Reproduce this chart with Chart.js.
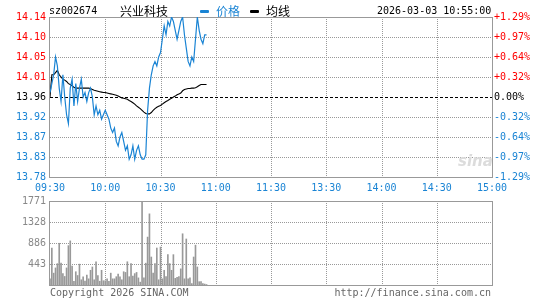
<!DOCTYPE html>
<html>
<head>
<meta charset="utf-8">
<script src="https://cdn.jsdelivr.net/npm/chart.js@4/dist/chart.umd.min.js"></script>
<style>
  body { margin: 0; background: #fff; }
  #wrap { position: relative; width: 545px; height: 300px; overflow: hidden; }
  canvas { position: absolute; left: 0; }
  .t { position: absolute; white-space: nowrap; font: 10px 'DejaVu Sans Mono', monospace; line-height: 10px; }
  .cjk { font: 12px 'Noto Sans CJK SC', sans-serif; line-height: 12px; }
  .bar { position: absolute; height: 3px; width: 9px; border-radius: 1px; }
</style>
</head>
<body>
<div id="wrap">
  <canvas id="priceChart" width="545" height="196" style="top:0"></canvas>
  <canvas id="volChart" width="545" height="114" style="top:186px"></canvas>
  <div class="t" style="left:49px;top:6px;color:#000">sz002674</div>
  <div class="t cjk" style="left:120px;top:5px;color:#000">兴业科技</div>
  <div class="bar" style="left:200px;top:10px;background:#1a84d4"></div>
  <div class="t cjk" style="left:216px;top:5px;color:#1a84d4">价格</div>
  <div class="bar" style="left:250px;top:10px;background:#000"></div>
  <div class="t cjk" style="left:266px;top:5px;color:#000">均线</div>
  <div class="t" style="left:377px;top:6px;color:#000">2026-03-03 10:55:00</div>
  <div class="t" style="left:458px;top:152px;font:italic bold 15px 'DejaVu Sans',sans-serif;color:#dcdcdc">sina</div>
  <div class="t" style="left:50px;top:288px;color:#666">Copyright 2026 SINA.COM</div>
  <div class="t" style="right:54px;top:288px;color:#666">http://finance.sina.com.cn</div>
</div>
<script>
// time axis labels, one every 30 trading minutes
const timeLabels = ['09:30', '10:00', '10:30', '11:00', '11:30', '13:30', '14:00', '14:30', '15:00'];
const priceLabels = ['13.78', '13.83', '13.87', '13.92', '13.96', '14.01', '14.05', '14.10', '14.14'];
const pctLabels = ['-1.29%', '-0.97%', '-0.64%', '-0.32%', '0.00%', '+0.32%', '+0.64%', '+0.97%', '+1.29%'];
const volLabels = ['443', '886', '1328', '1771'];
const volTicks = [443, 886, 1328, 1771];

const preClose = 13.96;
const priceStep = 0.045;

// minute prices from 09:30 to 10:55
const price = [13.97, 13.99, 14.01, 14.05, 14.03, 13.98, 13.95, 14.01, 13.96, 13.92,
  13.90, 13.98, 14.00, 13.94, 13.99, 13.95, 13.98, 14.00, 13.96, 13.97,
  13.95, 13.97, 13.98, 13.96, 13.92, 13.94, 13.92, 13.93, 13.91, 13.92,
  13.93, 13.92, 13.91, 13.89, 13.88, 13.89, 13.86, 13.85, 13.87, 13.88,
  13.86, 13.84, 13.85, 13.82, 13.83, 13.85, 13.82, 13.84, 13.85, 13.83,
  13.82, 13.82, 13.83, 13.93, 13.98, 14.01, 14.03, 14.04, 14.03, 14.05,
  14.06, 14.09, 14.12, 14.10, 14.13, 14.12, 14.14, 14.13, 14.11, 14.09,
  14.11, 14.13, 14.14, 14.10, 14.07, 14.04, 14.03, 14.05, 14.04, 14.09,
  14.14, 14.11, 14.09, 14.08, 14.10, 14.10];

// running average price
const avgPrice = [13.96, 14.01, 14.01, 14.015, 14.02, 14.01, 14.005, 14.0, 13.998, 13.995,
  13.99, 13.988, 13.985, 13.982, 13.98, 13.98, 13.98, 13.98, 13.98, 13.98,
  13.98, 13.98, 13.979, 13.977, 13.975, 13.974, 13.973, 13.972, 13.971, 13.97,
  13.97, 13.969, 13.968, 13.967, 13.966, 13.965, 13.964, 13.962, 13.96, 13.958,
  13.957, 13.956, 13.955, 13.952, 13.95, 13.947, 13.944, 13.94, 13.937, 13.934,
  13.93, 13.926, 13.923, 13.922, 13.922, 13.925, 13.93, 13.934, 13.937, 13.939,
  13.941, 13.944, 13.947, 13.95, 13.952, 13.955, 13.957, 13.96, 13.962, 13.965,
  13.967, 13.969, 13.974, 13.977, 13.978, 13.979, 13.979, 13.98, 13.98, 13.981,
  13.983, 13.986, 13.988, 13.988, 13.988, 13.988];

// volume per minute (lots)
const volume = [130, 780, 250, 360, 450, 880, 460, 240, 180, 360,
  830, 930, 400, 80, 280, 200, 440, 110, 170, 85,
  210, 130, 310, 380, 110, 490, 200, 80, 310, 90,
  90, 130, 80, 250, 130, 130, 175, 230, 170, 110,
  280, 265, 490, 175, 450, 190, 240, 265, 150, 60,
  1771, 150, 460, 1010, 1500, 590, 250, 450, 780, 110,
  800, 130, 310, 175, 640, 450, 310, 640, 140, 160,
  180, 340, 1080, 130, 970, 130, 150, 30, 590, 840,
  380, 70, 70, 30, 20, 10];

const BLUE = '#1a84d4';
const RED = '#ff0000';
const GRID = '#999999';
const FRAME = '#999999';
const monoFont = { family: "'DejaVu Sans Mono', monospace", size: 10 };

const priceTickVals = priceLabels.map((_, i) => preClose + (i - 4) * priceStep);
const yMin = priceTickVals[0];
const yMax = priceTickVals[priceTickVals.length - 1];

function tickColor(c) {
  if (c.index > 4) return RED;
  if (c.index === 4) return '#000';
  return BLUE;
}

// dotted grid, frame and (optionally) the dashed pre-close line
function gridPlugin(id, hLines, zero) {
  return {
    id: id,
    beforeDatasetsDraw(chart) {
      const ctx = chart.ctx;
      const a = chart.chartArea;
      const xs = chart.scales.x;
      const ys = chart.scales.y;
      ctx.save();
      ctx.lineWidth = 1;
      ctx.strokeStyle = GRID;
      ctx.setLineDash([1, 1]);
      for (let i = 1; i < timeLabels.length - 1; i++) {
        const px = Math.round(xs.getPixelForValue(i * 30)) + 0.5;
        ctx.beginPath(); ctx.moveTo(px, a.top); ctx.lineTo(px, a.bottom); ctx.stroke();
      }
      hLines.forEach(v => {
        const py = Math.round(ys.getPixelForValue(v)) + 0.5;
        ctx.beginPath(); ctx.moveTo(a.left, py); ctx.lineTo(a.right, py); ctx.stroke();
      });
      if (zero !== null) {
        const py = Math.round(ys.getPixelForValue(zero)) + 0.5;
        ctx.strokeStyle = '#000';
        ctx.setLineDash([3, 2]);
        ctx.beginPath(); ctx.moveTo(a.left, py); ctx.lineTo(a.right, py); ctx.stroke();
      }
      ctx.setLineDash([]);
      ctx.strokeStyle = FRAME;
      ctx.strokeRect(Math.round(a.left) - 0.5, Math.round(a.top) + 0.5,
        Math.round(a.right - a.left) + 1, Math.round(a.bottom - a.top));
      ctx.restore();
    }
  };
}

new Chart(document.getElementById('priceChart'), {
  type: 'line',
  data: {
    datasets: [
      {
        label: '价格',
        data: price.map((p, i) => ({ x: i, y: p })),
        borderColor: BLUE,
        borderWidth: 1.2,
        pointRadius: 0,
        tension: 0
      },
      {
        label: '均线',
        data: avgPrice.map((p, i) => ({ x: i, y: p })),
        borderColor: '#000',
        borderWidth: 1.1,
        pointRadius: 0,
        tension: 0
      }
    ]
  },
  options: {
    animation: false,
    responsive: false,
    layout: { padding: { top: 17, left: 0, right: 0, bottom: 0 } },
    plugins: { legend: { display: false }, tooltip: { enabled: false } },
    scales: {
      x: {
        type: 'linear', min: 0, max: 240,
        afterBuildTicks: s => { s.ticks = timeLabels.map((_, i) => ({ value: i * 30 })); },
        afterFit: s => { s.height = 19; },
        ticks: {
          callback: (v, i) => timeLabels[i], color: BLUE, font: monoFont,
          padding: 5, maxRotation: 0, autoSkip: false
        },
        grid: { display: false, drawTicks: false },
        border: { display: false }
      },
      y: {
        min: yMin, max: yMax,
        afterBuildTicks: s => { s.ticks = priceTickVals.map(v => ({ value: v })); },
        afterFit: s => { s.width = 50; },
        ticks: { callback: (v, i) => priceLabels[i], color: tickColor, font: monoFont, padding: 4, autoSkip: false },
        grid: { display: false, drawTicks: false },
        border: { display: false }
      },
      y2: {
        position: 'right',
        min: yMin, max: yMax,
        afterBuildTicks: s => { s.ticks = priceTickVals.map(v => ({ value: v })); },
        afterFit: s => { s.width = 53; },
        ticks: { callback: (v, i) => pctLabels[i], color: tickColor, font: monoFont, padding: 2, autoSkip: false },
        grid: { display: false, drawTicks: false },
        border: { display: false }
      }
    }
  },
  plugins: [gridPlugin('priceGrid', priceTickVals.slice(1, -1).filter((_, i) => i !== 3), preClose)]
});

new Chart(document.getElementById('volChart'), {
  type: 'bar',
  data: {
    datasets: [{
      label: 'volume',
      data: volume.map((v, i) => ({ x: i, y: v })),
      backgroundColor: '#999999',
      barThickness: 1
    }]
  },
  options: {
    animation: false,
    responsive: false,
    layout: { padding: { top: 15, left: 0, right: 53, bottom: 15 } },
    plugins: { legend: { display: false }, tooltip: { enabled: false } },
    scales: {
      x: {
        type: 'linear', min: 0, max: 240, offset: false,
        afterFit: s => { s.height = 0; },
        ticks: { display: false },
        grid: { display: false, drawTicks: false, offset: false },
        border: { display: false }
      },
      y: {
        min: 0, max: volTicks[volTicks.length - 1],
        afterBuildTicks: s => { s.ticks = volTicks.map(v => ({ value: v })); },
        afterFit: s => { s.width = 50; },
        ticks: { callback: (v, i) => volLabels[i], color: '#888', font: monoFont, padding: 4, autoSkip: false },
        grid: { display: false, drawTicks: false },
        border: { display: false }
      }
    }
  },
  plugins: [gridPlugin('volGrid', volTicks.slice(0, -1), null)]
});
</script>
</body>
</html>
